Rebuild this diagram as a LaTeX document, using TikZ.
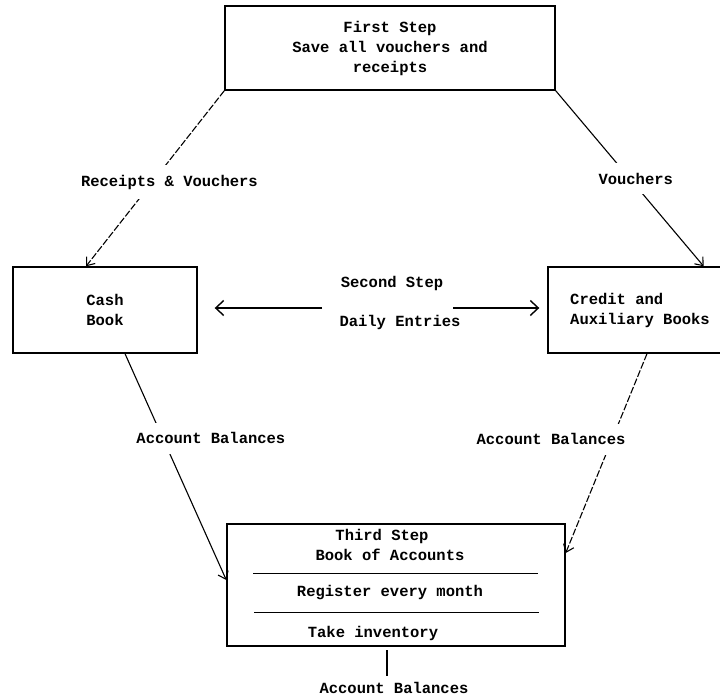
\documentclass[tikz,border=0pt]{standalone}
\usepackage{fontspec}
\setmonofont{Liberation Mono}
\usetikzlibrary{arrows.meta,positioning,calc}

\begin{document}
\begin{tikzpicture}[x=1pt,y=-1pt,line width=1.1pt,
  every node/.style={font=\ttfamily\bfseries\fontsize{15.5}{20}\selectfont,align=center},
  box/.style={draw,line width=1.4pt,inner sep=0pt},
  arr/.style={-{Straight Barb[length=7pt,width=11pt]}},
  bigarr/.style={-{Straight Barb[length=8pt,width=15pt]},line width=1.4pt},
  broken/.style={dash pattern=on 7pt off 2pt},
  lab/.style={fill=white,inner xsep=2pt,inner ysep=10pt}]
\useasboundingbox (0,0) rectangle (720,699);
\node[box,minimum width=330pt,minimum height=84pt] (first) at (390,48) {First Step\\Save all vouchers and\\receipts};
\node[box,minimum width=184pt,minimum height=86pt] (cash) at (105,310) {Cash\\Book};
\node[box,minimum width=184pt,minimum height=86pt,align=left] (credit) at (640,310) {Credit and\\Auxiliary Books};
\node[box,minimum width=338pt,minimum height=122pt] (third) at (396,585) {};
\draw[arr,broken] (first.south west) -- node[lab,pos=0.52,xshift=17pt] {Receipts \& Vouchers} ($(cash.north)+(-19,0)$);
\draw[arr] (first.south east) -- node[lab,pos=0.5,xshift=6pt] {Vouchers} ($(credit.north east)+(-29,0)$);
% second step
\node (second) at (392,283) {Second Step};
\node (daily) at (400,322) {Daily Entries};
\coordinate (dl) at (322,308);
\coordinate (dr) at (453,308);
\draw[bigarr,shorten >=17pt] (dl) -- (dl -| cash.east);
\draw[bigarr,shorten >=8pt] (dr) -- (dr -| credit.west);
% third step
\draw[arr] ($(cash.south)+(20,0)$) -- node[lab,pos=0.374,xshift=48pt] {Account Balances} ($(third.west)+(0,-5)$);
\draw[arr,broken] ($(credit.south)+(7,0)$) -- node[lab,pos=0.43,xshift=-61pt] {Account Balances} ($(third.east)+(0,-32)$);
\node (tstep) at (382,536) {Third Step};
\node (book) at (390,555) {Book of Accounts};
\draw ($(third.north west)+(27,50)$) -- ($(third.north east)+(-28,50)$);
\node (month) at (390,593) {Register every month};
\draw ($(third.north west)+(28,89)$) -- ($(third.north east)+(-27,89)$);
\node (inv) at (373,633) {Take inventory};
\node (bal) at (394,688) {Account Balances};
\coordinate (tail) at (387,650);
\draw[line width=1.4pt,shorten >=2pt] (tail) -- (tail |- bal.north);
\end{tikzpicture}
\end{document}
